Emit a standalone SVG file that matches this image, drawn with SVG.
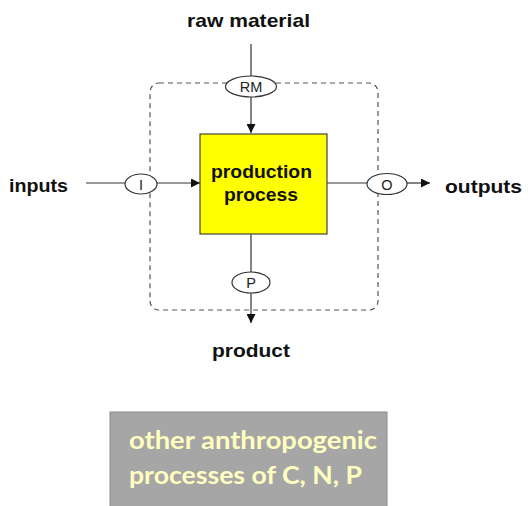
<svg xmlns="http://www.w3.org/2000/svg" width="528" height="506" viewBox="0 0 528 506">
<style>
.lbl{font-family:"Liberation Sans",Arial,sans-serif;font-weight:bold;fill:#111;}
.small{font-family:"Liberation Sans",Arial,sans-serif;font-size:14.5px;fill:#222;text-anchor:middle;}
.ln{stroke:#333;stroke-width:1.2;fill:none;}
.ell{fill:#fff;stroke:#333;stroke-width:1.2;}
.gt{font-family:Lato,"Open Sans",sans-serif;font-weight:bold;font-size:25px;fill:#ffffc0;}
</style>
<defs>
<marker id="arr" viewBox="0 0 10 10" refX="10" refY="5" markerWidth="9" markerHeight="9" markerUnits="userSpaceOnUse" orient="auto">
<path d="M0,0 L10,5 L0,10 z" fill="#111"/>
</marker>
</defs>
<rect width="528" height="506" fill="#fff"/>
<g id="boundary">
<rect x="150" y="83" width="228" height="227" rx="9" fill="none" stroke="#555" stroke-width="1.2" stroke-dasharray="5,4"/>
</g>
<g id="connectors">
<line class="ln" x1="251" y1="44" x2="251" y2="76"/>
<line class="ln" x1="251" y1="97" x2="251" y2="133" marker-end="url(#arr)"/>
<line class="ln" x1="86" y1="183" x2="125" y2="183"/>
<line class="ln" x1="157" y1="183" x2="200" y2="183" marker-end="url(#arr)"/>
<line class="ln" x1="327" y1="183" x2="367" y2="183"/>
<line class="ln" x1="407" y1="183" x2="430" y2="183" marker-end="url(#arr)"/>
<line class="ln" x1="251" y1="234" x2="251" y2="272"/>
<line class="ln" x1="251" y1="293" x2="251" y2="323" marker-end="url(#arr)"/>
</g>
<g id="raw-material"><text class="lbl" x="187" y="27" font-size="19" textLength="123" lengthAdjust="spacingAndGlyphs">raw material</text></g>
<g id="RM"><ellipse class="ell" cx="251" cy="86.5" rx="25.5" ry="10.5"/><text class="small" x="251" y="92">RM</text></g>
<g id="production-process">
<rect x="200" y="134" width="127" height="100" fill="#ffff00" stroke="#444" stroke-width="1.2"/>
<text class="lbl" x="211" y="178" font-size="18" textLength="101" lengthAdjust="spacingAndGlyphs">production</text>
<text class="lbl" x="224" y="201" font-size="18" textLength="74" lengthAdjust="spacingAndGlyphs">process</text>
</g>
<g id="inputs"><text class="lbl" x="9" y="192" font-size="19" textLength="59" lengthAdjust="spacingAndGlyphs">inputs</text></g>
<g id="I"><ellipse class="ell" cx="141" cy="184" rx="16" ry="10"/><text class="small" x="141" y="189.5">I</text></g>
<g id="O"><ellipse class="ell" cx="387" cy="184" rx="20" ry="10.5"/><text class="small" x="387" y="189.5">O</text></g>
<g id="outputs"><text class="lbl" x="445" y="193" font-size="19" textLength="77" lengthAdjust="spacingAndGlyphs">outputs</text></g>
<g id="P"><ellipse class="ell" cx="251" cy="282.5" rx="19" ry="10.5"/><text class="small" x="251" y="288">P</text></g>
<g id="product"><text class="lbl" x="212" y="357" font-size="19" textLength="78" lengthAdjust="spacingAndGlyphs">product</text></g>
<g id="other-processes">
<rect x="110" y="412" width="277" height="100" fill="#a6a6a6" stroke="#8a8a8a" stroke-width="1"/>
<text class="gt" x="129" y="449" textLength="248" lengthAdjust="spacingAndGlyphs">other anthropogenic</text>
<text class="gt" x="129" y="484" textLength="233" lengthAdjust="spacingAndGlyphs">processes of C, N, P</text>
</g>
</svg>
